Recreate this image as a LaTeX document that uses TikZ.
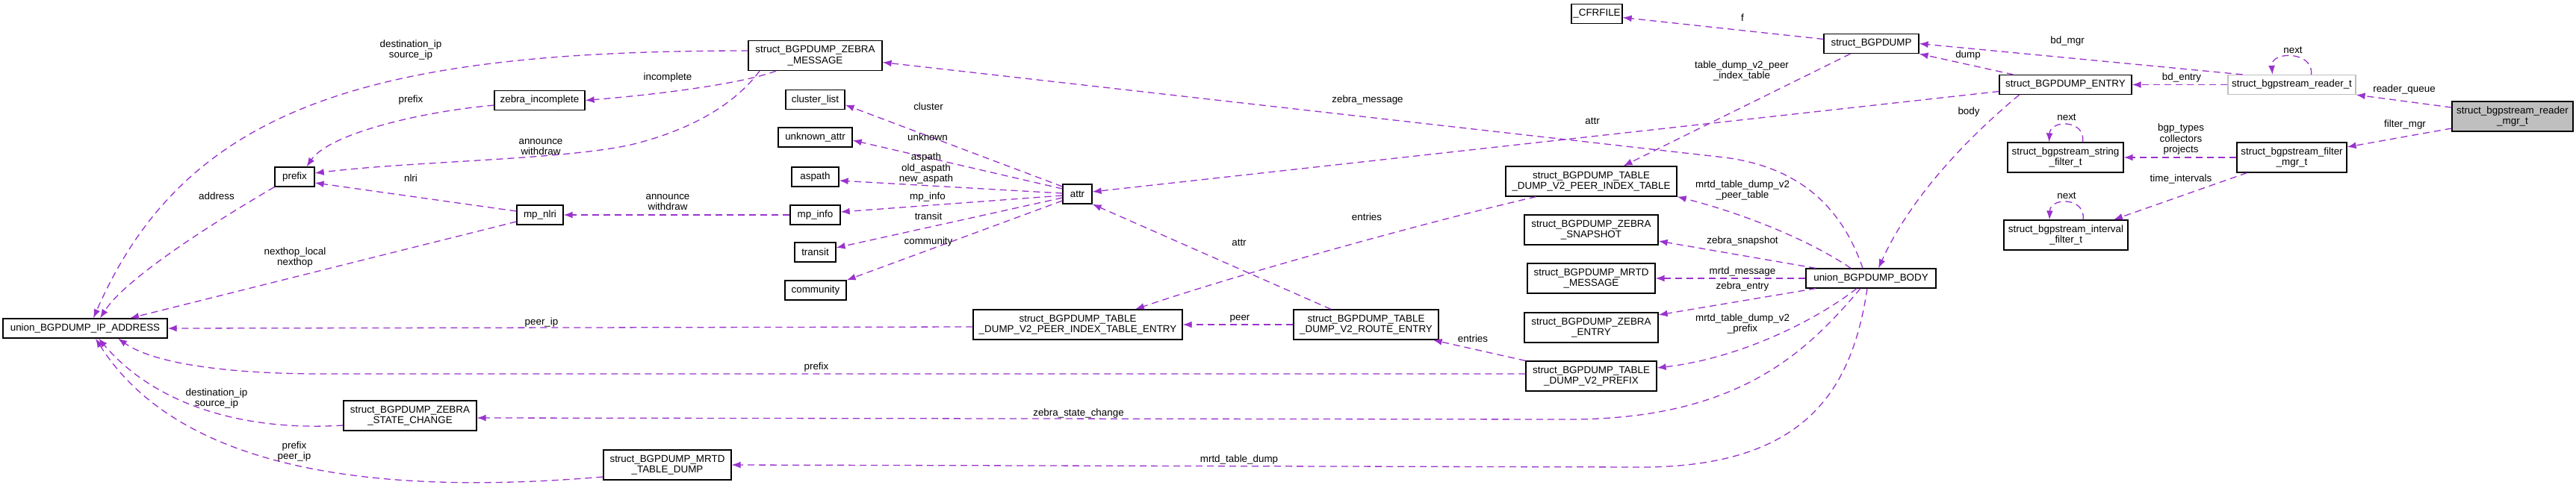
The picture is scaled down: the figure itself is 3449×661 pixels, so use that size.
\documentclass[tikz,border=0pt]{standalone}
\usepackage{fontspec}
\setmainfont{Liberation Sans}
\usetikzlibrary{arrows.meta}
\definecolor{linkpurple}{HTML}{9A32CD}
\definecolor{rootgray}{HTML}{BFBFBF}

\begin{document}
\begin{tikzpicture}[x=1pt, y=-1pt,
            every node/.style={font=\fontsize{13.4}{14.5}\selectfont},
            box/.style={draw=black, line width=1.2pt, fill=white, inner sep=2pt, minimum height=26pt, align=center},
            tallbox/.style={box, minimum height=40pt},
            link/.style={linkpurple, line width=1.3pt, dash pattern=on 9pt off 6pt, -{Latex[length=12pt, width=9pt]}},
            lbl/.style={inner sep=0pt, align=center}]
            \useasboundingbox (0,0) rectangle (3449,661);

            \node[box, minimum width=220pt] (ipaddr) at (114,440) {union\_BGPDUMP\_IP\_ADDRESS};
            \node[box, minimum width=53pt] (prefix) at (394.5,237) {prefix};
            \node[box, minimum width=121pt] (zinc) at (722.5,134.5) {zebra\_incomplete};
            \node[box, minimum width=62pt] (mpnlri) at (723,288) {mp\_nlri};
            \node[tallbox, minimum width=179pt] (zmsg) at (1091.5,74.5) {struct\_BGPDUMP\_ZEBRA\\\_MESSAGE};
            \node[box, minimum width=79pt] (clist) at (1091.5,133.5) {cluster\_list};
            \node[box, minimum width=99pt] (uattr) at (1091.5,184) {unknown\_attr};
            \node[box, minimum width=63pt] (aspath) at (1091.5,237) {aspath};
            \node[box, minimum width=67pt] (mpinfo) at (1091.5,288) {mp\_info};
            \node[box, minimum width=55pt] (transit) at (1091.5,338) {transit};
            \node[box, minimum width=82pt] (community) at (1092,389) {community};
            \node[tallbox, minimum width=178pt] (zsc) at (549,557) {struct\_BGPDUMP\_ZEBRA\\\_STATE\_CHANGE};
            \node[tallbox, minimum width=171pt] (mrtdtd) at (893.5,623) {struct\_BGPDUMP\_MRTD\\\_TABLE\_DUMP};
            \node[box, minimum width=39pt] (attr) at (1442.5,260) {attr};
            \node[tallbox, minimum width=280pt] (pite) at (1443,435) {struct\_BGPDUMP\_TABLE\\\_DUMP\_V2\_PEER\_INDEX\_TABLE\_ENTRY};
            \node[tallbox, minimum width=194pt] (route) at (1829,435) {struct\_BGPDUMP\_TABLE\\\_DUMP\_V2\_ROUTE\_ENTRY};
            \node[tallbox, minimum width=229pt] (pit) at (2130.5,243) {struct\_BGPDUMP\_TABLE\\\_DUMP\_V2\_PEER\_INDEX\_TABLE};
            \node[tallbox, minimum width=179pt] (zsnap) at (2130.5,308) {struct\_BGPDUMP\_ZEBRA\\\_SNAPSHOT};
            \node[tallbox, minimum width=171pt] (mrtdmsg) at (2130.5,373) {struct\_BGPDUMP\_MRTD\\\_MESSAGE};
            \node[tallbox, minimum width=179pt] (zentry) at (2130.5,439) {struct\_BGPDUMP\_ZEBRA\\\_ENTRY};
            \node[tallbox, minimum width=175pt] (v2prefix) at (2130.5,504) {struct\_BGPDUMP\_TABLE\\\_DUMP\_V2\_PREFIX};
            \node[box, minimum width=174pt] (body) at (2505,373) {union\_BGPDUMP\_BODY};
            \node[box, minimum width=68pt] (cfrfile) at (2138,18.5) {\_CFRFILE};
            \node[box, minimum width=127pt] (bgpdump) at (2505.5,58.5) {struct\_BGPDUMP};
            \node[box, minimum width=177pt] (entry) at (2765.5,113.5) {struct\_BGPDUMP\_ENTRY};
            \node[box, draw=rootgray, minimum width=171pt] (reader) at (3068.5,113.5) {struct\_bgpstream\_reader\_t};
            \node[tallbox, fill=rootgray, minimum width=162pt] (rmgr) at (3364,156) {struct\_bgpstream\_reader\\\_mgr\_t};
            \node[tallbox, minimum width=147pt] (fmgr) at (3068.5,211) {struct\_bgpstream\_filter\\\_mgr\_t};
            \node[tallbox, minimum width=155pt] (sfilt) at (2765.5,211) {struct\_bgpstream\_string\\\_filter\_t};
            \node[tallbox, minimum width=166pt] (ifilt) at (2766,315) {struct\_bgpstream\_interval\\\_filter\_t};

            \draw[link] ([yshift=12pt]rmgr.west) -- (reader.south east);
            \draw[link] ([yshift=-16pt]rmgr.west) -- ([yshift=14pt]fmgr.east);
            \draw[link] ([xshift=26pt]reader.north) .. controls (3098,68) and (3040,68) .. ([xshift=-26pt]reader.north);
            \draw[link] (reader.west) -- (entry.east);
            \draw[link] ([xshift=-66pt]reader.north) -- (bgpdump.east);
            \draw[link] ([xshift=-70pt]entry.north) -- (bgpdump.south east);
            \draw[link] ([yshift=6pt]bgpdump.west) -- ([yshift=-5pt]cfrfile.east);
            \draw[link] ([xshift=-28pt]bgpdump.south) -- ([xshift=43pt]pit.north);
            \draw[link] ([yshift=-9pt]entry.west) -- ([yshift=3pt]attr.east);
            \draw[link] ([xshift=-62pt]entry.south) .. controls (2640,180) and (2560,260) .. ([xshift=10pt]body.north);
            \draw[link] (fmgr.west) -- (sfilt.east);
            \draw[link] ([xshift=-60pt]fmgr.south) -- ([xshift=64pt]ifilt.north);
            \draw[link] ([xshift=23pt]sfilt.north) .. controls (2793,160) and (2745,160) .. ([xshift=-22pt]sfilt.north);
            \draw[link] ([xshift=23pt]ifilt.north) .. controls (2793,264) and (2745,264) .. ([xshift=-22pt]ifilt.north);

            \draw[link] ([xshift=-27pt]body.north) .. controls (2420,320) and (2330,285) .. (pit.south east);
            \draw[link] ([xshift=-74pt]body.north) -- ([yshift=-15pt]zsnap.east);
            \draw[link] (body.west) -- (mrtdmsg.east);
            \draw[link] ([xshift=-74pt]body.south) -- ([yshift=17pt]zentry.east);
            \draw[link] ([xshift=-19pt]body.south) .. controls (2430,430) and (2330,480) .. ([yshift=11pt]v2prefix.east);
            \draw[link] ([xshift=-14pt]body.south) .. controls (2420,470) and (2330,562) .. (2100,562) -- ([yshift=-3pt]zsc.east);
            \draw[link] ([xshift=-5pt]body.south) .. controls (2480,520) and (2420,625) .. (2200,626) -- (mrtdtd.east);
            \draw[link] ([xshift=-11pt]body.north) .. controls (2470,290) and (2420,222) .. (2300,210) -- ([yshift=-9pt]zmsg.east);

            \draw[link] ([xshift=-74pt]pit.south) .. controls (1900,300) and (1650,370) .. ([xshift=77pt]pite.north);
            \draw[link] (route.west) -- (pite.east);
            \draw[link] ([xshift=-47pt]route.north) -- (attr.south east);
            \draw[link] (v2prefix.north west) -- ([xshift=-8pt]route.south east);
            \draw[link] ([yshift=3pt]v2prefix.west) -- (430,501) .. controls (320,501) and (210,490) .. ([xshift=44pt]ipaddr.south);
            \draw[link] ([yshift=-3pt]pite.west) -- (ipaddr.east);
            \draw[link] ([yshift=-16pt]mrtdtd.west) .. controls (500,665) and (240,630) .. ([xshift=14pt]ipaddr.south);
            \draw[link] ([yshift=-13pt]zsc.west) .. controls (330,578) and (210,545) .. ([xshift=18pt]ipaddr.south);

            \draw[link] ([yshift=6.5pt]zmsg.west) .. controls (500,68) and (250,140) .. ([xshift=11pt]ipaddr.north);
            \draw[link] ([yshift=-6.5pt]zinc.west) .. controls (560,150) and (440,180) .. ([xshift=16pt]prefix.north);
            \draw[link] ([xshift=-52.5pt]zmsg.south) .. controls (1000,110) and (900,125) .. (zinc.east);
            \draw[link] ([xshift=-74.5pt]zmsg.south) .. controls (995,125) and (950,165) .. (860,190) .. controls (780,214) and (560,215) .. ([yshift=5pt]prefix.east);
            \draw[link] ([yshift=-9pt]mpnlri.west) -- ([xshift=60pt]ipaddr.north);
            \draw[link] ([yshift=5pt]mpnlri.west) -- ([yshift=-8pt]prefix.east);
            \draw[link] (prefix.south west) .. controls (300,290) and (170,370) .. ([xshift=20pt]ipaddr.north);
            \draw[link] (mpinfo.west) -- (mpnlri.east);

            \draw[link] ([yshift=10pt]attr.west) -- ([yshift=-7pt]clist.east);
            \draw[link] ([yshift=7pt]attr.west) -- ([yshift=-4pt]uattr.east);
            \draw[link] ([yshift=1pt]attr.west) -- ([yshift=-5pt]aspath.east);
            \draw[link] ([yshift=-2pt]attr.west) -- ([yshift=4pt]mpinfo.east);
            \draw[link] ([yshift=-5pt]attr.west) -- ([yshift=6pt]transit.east);
            \draw[link] ([yshift=-9pt]attr.west) -- (community.north east);

            \node[lbl] (lreaderq) at (3219,120) {reader\_queue};
            \node[lbl] (lfiltermgr) at (3220,167) {filter\_mgr};
            \node[lbl] (lreadernext) at (3070,67) {next};
            \node[lbl] (lbdentry) at (2921,104) {bd\_entry};
            \node[lbl] (lbdmgr) at (2768,55) {bd\_mgr};
            \node[lbl] (ldump) at (2635,74) {dump};
            \node[lbl] (lf) at (2333,24) {f};
            \node[lbl] (lpeeridx) at (2332,95) {table\_dump\_v2\_peer\\\_index\_table};
            \node[lbl] (lentryattr) at (2132,162) {attr};
            \node[lbl] (lbody) at (2636,150) {body};
            \node[lbl] (lfilters) at (2920,187) {bgp\_types\\collectors\\projects};
            \node[lbl] (ltimes) at (2920,240) {time\_intervals};
            \node[lbl] (lsnext) at (2767,157) {next};
            \node[lbl] (linext) at (2767,262) {next};

            \node[lbl] (lpeertable) at (2333,255) {mrtd\_table\_dump\_v2\\\_peer\_table};
            \node[lbl] (lzsnap) at (2333,323) {zebra\_snapshot};
            \node[lbl] (lmrtdmsg) at (2333,364) {mrtd\_message};
            \node[lbl] (lzentry) at (2333,384) {zebra\_entry};
            \node[lbl] (lv2prefix) at (2333,434) {mrtd\_table\_dump\_v2\\\_prefix};
            \node[lbl] (lzmsg) at (1831,134) {zebra\_message};
            \node[lbl] (lpitentries) at (1830,291) {entries};
            \node[lbl] (lrouteattr) at (1659,325) {attr};
            \node[lbl] (lpeer) at (1660,427) {peer};
            \node[lbl] (lrouteentries) at (1972,454) {entries};
            \node[lbl] (lzsc) at (1444,554) {zebra\_state\_change};
            \node[lbl] (lmrtdtd) at (1659,616) {mrtd\_table\_dump};
            \node[lbl] (lprefixv2) at (1093,492) {prefix};
            \node[lbl] (lpeerip) at (725,432) {peer\_ip};

            \node[lbl] (lcluster) at (1243,143) {cluster};
            \node[lbl] (lunknown) at (1242,184) {unknown};
            \node[lbl] (laspath) at (1240,226) {aspath\\old\_aspath\\new\_aspath};
            \node[lbl] (lmpinfo) at (1242,264) {mp\_info};
            \node[lbl] (ltransit) at (1243,290) {transit};
            \node[lbl] (lcommunity) at (1243,324) {community};

            \node[lbl] (lzmsgip) at (550,67) {destination\_ip\\source\_ip};
            \node[lbl] (lzincprefix) at (550,134) {prefix};
            \node[lbl] (lnlri) at (550,239) {nlri};
            \node[lbl] (laddress) at (290,263) {address};
            \node[lbl] (lincomplete) at (894,104) {incomplete};
            \node[lbl] (lannounce) at (724,197) {announce\\withdraw};
            \node[lbl] (lmpannounce) at (894,271) {announce\\withdraw};
            \node[lbl] (lnexthop) at (395,345) {nexthop\_local\\nexthop};
            \node[lbl] (lzscip) at (290,534) {destination\_ip\\source\_ip};
            \node[lbl] (lmrtdip) at (394,605) {prefix\\peer\_ip};
            \end{tikzpicture}
\end{document}
